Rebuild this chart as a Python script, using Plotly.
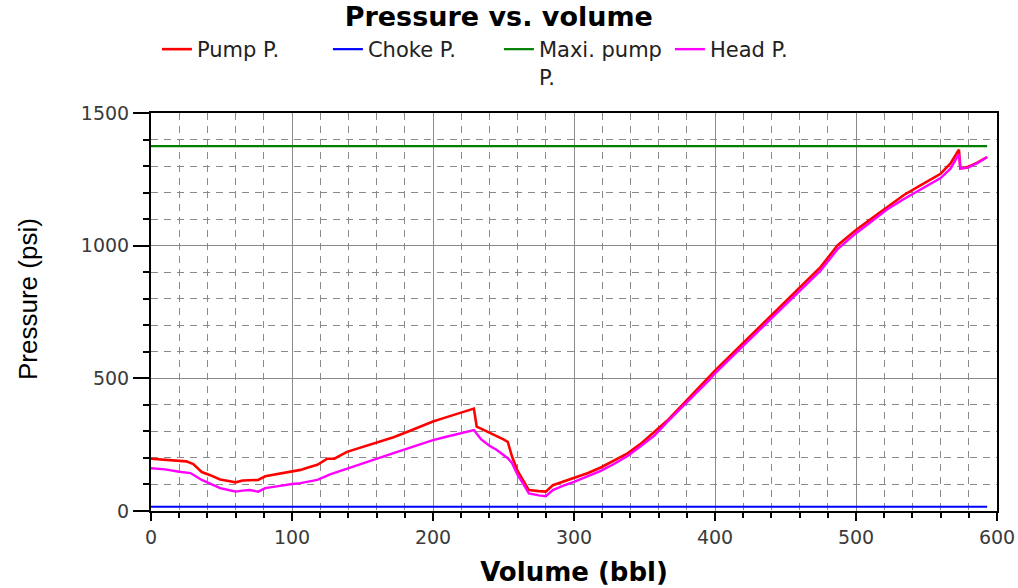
import plotly.graph_objects as go

# ---- data ----
pump_vol = [0, 10, 20, 25, 30, 36, 42, 49, 55, 60, 65, 70, 76, 81, 88, 94, 100, 106, 112, 118,
            125, 130, 139, 150, 163, 172, 182, 190, 200, 208, 217, 224, 229, 231, 236, 240,
            245, 250, 253, 256, 260, 264, 268, 275, 280, 285, 292, 300, 310, 319, 328, 338,
            347, 357, 366, 376, 386, 396, 400, 420, 439, 457, 475, 487, 500, 511, 522, 534,
            546, 560, 567, 573, 574, 579, 586, 593]
pump_p = [197, 193, 190, 187, 177, 147, 135, 119, 113, 108, 115, 115, 117, 131, 137, 143, 149, 155, 165, 174,
          197, 197, 223, 241, 261, 278, 299, 316, 337, 351, 367, 377, 386, 318, 306, 296,
          284, 270, 261, 206, 151, 117, 79, 75, 73, 97, 110, 123, 143, 164, 189, 217,
          252, 300, 340, 395, 450, 505, 529, 633, 731, 825, 920, 1002, 1059, 1102, 1146, 1191,
          1228, 1271, 1310, 1362, 1291, 1296, 1313, 1334]

head_vol = [0, 10, 20, 28, 36, 42, 49, 55, 60, 65, 70, 76, 81, 88, 94, 100, 106, 118, 127, 139,
            150, 163, 172, 182, 190, 200, 208, 217, 224, 229, 231, 234, 240, 245, 250, 253,
            256, 260, 264, 268, 275, 280, 285, 292, 300, 310, 319, 328, 338, 347, 357, 366,
            376, 386, 396, 400, 420, 439, 457, 475, 487, 500, 511, 522, 534, 546, 560, 567,
            573, 574, 579, 586, 593]
head_p = [161, 157, 148, 143, 117, 102, 86, 79, 73, 77, 79, 73, 86, 92, 98, 102, 105, 117, 138, 160,
          181, 202, 218, 236, 251, 267, 278, 290, 299, 305, 291, 271, 246, 231, 211, 199,
          181, 136, 102, 66, 59, 56, 79, 95, 110, 131, 151, 176, 207, 243, 284, 335,
          388, 440, 494, 519, 623, 722, 814, 907, 987, 1047, 1091, 1136, 1176, 1213, 1255, 1290,
          1345, 1291, 1293, 1311, 1334]

choke_vol = [0, 593]
choke_p = [16, 16]

maxi_vol = [0, 593]
maxi_p = [1375, 1375]

series_names = ["Pump P.", "Choke P.", "Maxi. pump<br>P.", "Head P."]
series_colors = ["#ff0000", "#0000ff", "#008000", "#ff00ff"]

x_ticks = [0, 100, 200, 300, 400, 500, 600]
y_ticks = [0, 500, 1000, 1500]

# ---- figure ----
fig = go.Figure()
for vol, p, name, col, w in [
    (pump_vol, pump_p, series_names[0], series_colors[0], 2.6),
    (choke_vol, choke_p, series_names[1], series_colors[1], 2.2),
    (maxi_vol, maxi_p, series_names[2], series_colors[2], 2.2),
    (head_vol, head_p, series_names[3], series_colors[3], 2.4),
]:
    fig.add_trace(go.Scatter(x=vol, y=p, mode="lines", name=name,
                             line=dict(color=col, width=w)))

grid_col = "#8a8a8a"
tick_font = dict(family="DejaVu Sans", size=19, color="#3a3a3a")

W, H = 1018, 588
L, R, T, B = 151, 21, 113, 77
plot_w, plot_h = W - L - R, H - T - B

fig.update_layout(
    width=W, height=H,
    margin=dict(l=L, r=R, t=T, b=B, autoexpand=False),
    paper_bgcolor="white", plot_bgcolor="white",
    title=dict(text="<b>Pressure vs. volume</b>",
               font=dict(family="DejaVu Sans", size=27, color="black"),
               x=0.49, xref="container", xanchor="center",
               y=1 - 17 / H, yref="container", yanchor="middle"),
    legend=dict(orientation="h", xref="paper", x=0.007, xanchor="left",
                yref="paper", y=(H - B - 29) / plot_h, yanchor="top",
                entrywidth=126, entrywidthmode="pixels", valign="top",
                font=dict(family="DejaVu Sans", size=21, color="#222222"),
                bgcolor="rgba(0,0,0,0)"),
    showlegend=True,
    annotations=[dict(text="Pressure (psi)", textangle=-90,
                      xref="paper", x=(28 - L) / plot_w, xanchor="center",
                      yref="paper", y=(H - B - 299) / plot_h, yanchor="middle",
                      showarrow=False,
                      font=dict(family="Liberation Sans, Arial", size=26, color="black"))],
)

fig.update_xaxes(
    range=[0, 600], tickmode="array", tickvals=x_ticks, ticktext=[str(v) for v in x_ticks],
    showgrid=True, gridcolor=grid_col, gridwidth=1.2, zeroline=False,
    ticks="outside", ticklen=8, tickcolor="black", tickwidth=1.5,
    showline=True, linecolor="black", linewidth=2, mirror=True,
    tickfont=tick_font, ticklabeloverflow="allow",
    minor=dict(dtick=20, tick0=0, showgrid=True, gridcolor=grid_col, gridwidth=1.2,
               griddash="7px,6px", ticks="outside", ticklen=5, tickcolor="black"),
    title=dict(text="<b>Volume (bbl)</b>",
               font=dict(family="DejaVu Sans", size=26, color="black"), standoff=16),
)
fig.update_yaxes(
    range=[0, 1500], tickmode="array", tickvals=y_ticks, ticktext=[str(v) for v in y_ticks],
    showgrid=True, gridcolor=grid_col, gridwidth=1.2, zeroline=False,
    ticks="outside", ticklen=16, tickcolor="black", tickwidth=1.5,
    showline=True, linecolor="black", linewidth=2, mirror=True,
    tickfont=tick_font,
    minor=dict(dtick=100, tick0=0, showgrid=True, gridcolor=grid_col, gridwidth=1.2,
               griddash="7px,6px", ticks="outside", ticklen=6, tickcolor="black"),
)

fig.write_html(
    "out.html",
    config={"displayModeBar": False},
    post_script="document.body.style.margin='0';document.body.style.overflow='hidden';",
)
